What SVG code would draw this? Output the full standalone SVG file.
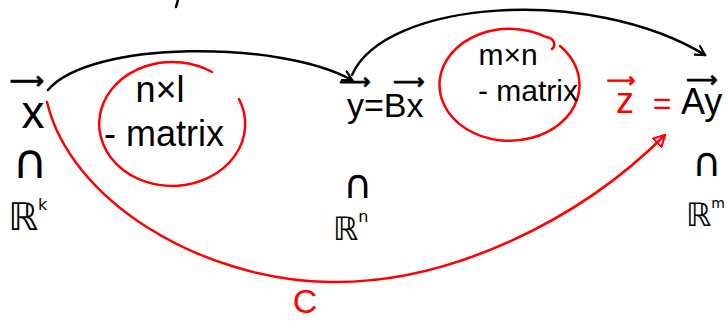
<svg xmlns="http://www.w3.org/2000/svg" width="727" height="322" viewBox="0 0 727 322">
<defs>
<style>
.k{fill:#000;font-family:"Liberation Sans","DejaVu Sans",sans-serif}
.r{fill:#ff0000;font-family:"Liberation Sans","DejaVu Sans",sans-serif}
.m{font-family:"DejaVu Sans",sans-serif}
.ar{font-family:"DejaVu Sans",sans-serif;stroke-width:0.9}
.k .ar,.k.ar{stroke:#000}
.r .ar{stroke:#ff0000}
.ck{fill:none;stroke:#000;stroke-width:2.5;stroke-linecap:round}
.cr{fill:none;stroke:#ff0000;stroke-width:2.5;stroke-linecap:round}
</style>
<marker id="ak" viewBox="0 0 12 12" refX="10" refY="6" markerWidth="12" markerHeight="12" markerUnits="userSpaceOnUse" orient="auto">
<path d="M1,1 L10,6 L1,11" fill="none" stroke="#000" stroke-width="2.2" stroke-linecap="round"/>
</marker>
<marker id="ar" viewBox="0 0 14 14" refX="12" refY="7" markerWidth="14" markerHeight="14" markerUnits="userSpaceOnUse" orient="auto">
<path d="M1,1 L12,7 L1,13 Z" fill="none" stroke="#ff0000" stroke-width="2.2" stroke-linejoin="round"/>
</marker>
</defs>
<rect width="727" height="322" fill="#fff"/>
<path class="ck" d="M178,0 L176,7"/>
<g id="connectors">
<path class="ck" d="M48,90 C90,40 280,40 352,80" marker-end="url(#ak)"/>
<path class="ck" d="M352,75 C385,0 590,-15 705,55" marker-end="url(#ak)"/>
<path class="cr" d="M47,102 C70,200 200,280 330,282 C450,284 580,220 665,135" marker-end="url(#ar)"/>
<text class="r" x="305" y="313" font-size="34" text-anchor="middle">C</text>
</g>
<g id="node-x">
<text class="k" text-anchor="middle"><tspan class="ar" x="27" y="89" font-size="24">⟶</tspan><tspan x="33" y="128" font-size="46">x</tspan></text>
<text class="k m" x="30" y="178" font-size="48" text-anchor="middle">∩</text>
<text class="k m" x="8" y="230" font-size="38">ℝ<tspan font-size="16" dy="-20">k</tspan></text>
</g>
<g id="matrix-nxl">
<path class="cr" d="M239,99 A73,62 0 1 1 212,72"/>
<text class="k" x="160" y="102" font-size="36" text-anchor="middle">n×l</text>
<text class="k" x="104" y="146" font-size="36">- matrix</text>
</g>
<g id="node-y">
<text class="k" text-anchor="middle"><tspan class="ar" x="355" y="89" font-size="22">⟶</tspan><tspan class="ar" x="409" y="89" font-size="22">⟶</tspan></text>
<text class="k" x="347" y="117" font-size="34">y=Bx</text>
<text class="k m" x="358" y="198" font-size="40" text-anchor="middle">∩</text>
<text class="k m" x="333" y="240" font-size="32">ℝ<tspan font-size="16" dy="-18">n</tspan></text>
</g>
<g id="matrix-mxn">
<path class="cr" d="M560,46 A70,56 0 1 1 546,37 C555,38 556,46 552,49"/>
<text class="k" x="508" y="65" font-size="30" text-anchor="middle">m×n</text>
<text class="k" x="478" y="101" font-size="30">- matrix</text>
</g>
<g id="node-z">
<text class="r" x="621" y="87" font-size="20" text-anchor="middle"><tspan class="ar">⟶</tspan></text>
<text class="r" x="625" y="113" font-size="36" text-anchor="middle">z</text>
<text class="r" x="662" y="114" font-size="32" text-anchor="middle">=</text>
<text class="k" x="702" y="87" font-size="22" text-anchor="middle"><tspan class="ar">⟶</tspan></text>
<text class="k" x="681" y="114" font-size="36">Ay</text>
<text class="k m" x="707" y="176" font-size="40" text-anchor="middle">∩</text>
<text class="k m" x="686" y="226" font-size="32">ℝ<tspan font-size="14" dy="-18">m</tspan></text>
</g>
</svg>
